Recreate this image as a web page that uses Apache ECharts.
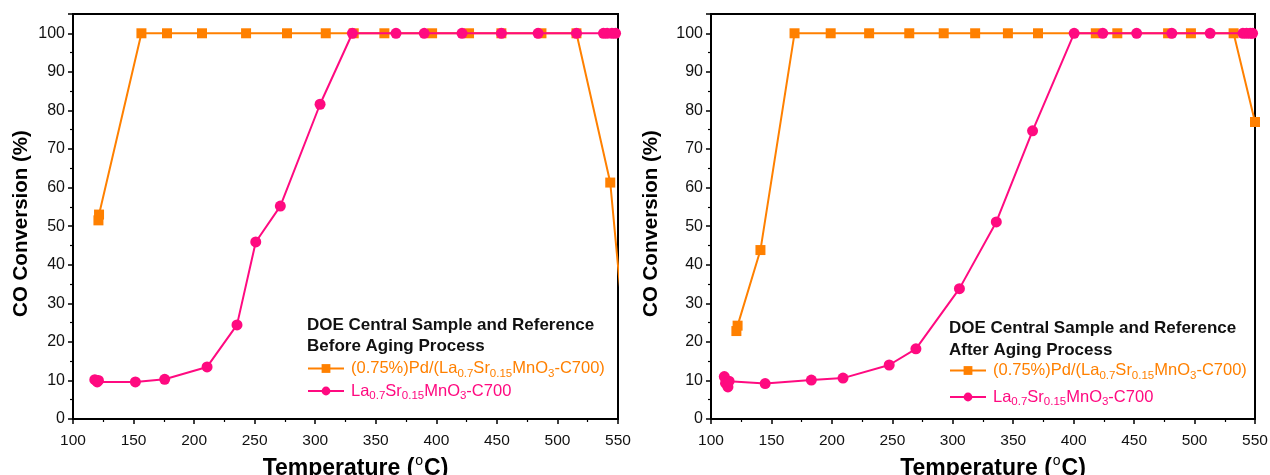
<!DOCTYPE html>
<html>
<head>
<meta charset="utf-8">
<script src="https://cdn.jsdelivr.net/npm/echarts@6/dist/echarts.min.js"></script>
<style>
html,body{margin:0;padding:0;background:#fff;}
#c{width:1270px;height:475px;}
</style>
</head>
<body>
<div id="c"></div>
<script>
// ---- Data (temperature °C, CO conversion %) ----
// Left panel: Before Aging Process
const beforePdT = [121, 121.5, 156.5, 177.6, 206.5, 242.9, 276.7, 308.7, 331.8, 357.1, 396.5, 427, 453.7, 486.8, 515.7, 543.6, 552];
const beforePdY = [51.5, 53, 100, 100, 100, 100, 100, 100, 100, 100, 100, 100, 100, 100, 100, 61.3, 33];
const beforeLaT = [118, 120, 121, 151.5, 175.7, 210.7, 235.4, 250.9, 271.2, 304, 330.7, 366.7, 390, 421.2, 453.7, 484, 515.7, 538, 541, 545, 548];
const beforeLaY = [10.2, 9.6, 10, 9.6, 10.3, 13.5, 24.4, 45.9, 55.2, 81.6, 100, 100, 100, 100, 100, 100, 100, 100, 100, 100, 100];
// Right panel: After Aging Process
const afterPdT = [121, 122, 140.9, 169.1, 199, 230.8, 264, 292.5, 318.5, 345.6, 370.5, 418.3, 436.1, 478.1, 497, 532.3, 550];
const afterPdY = [22.8, 24.2, 43.8, 100, 100, 100, 100, 100, 100, 100, 100, 100, 100, 100, 100, 100, 77];
const afterLaT = [111, 112, 114, 115, 144.8, 183, 209.2, 247.4, 269.5, 305.5, 336, 366, 400.4, 424.1, 452.1, 481.2, 512.9, 540, 543, 546, 548];
const afterLaY = [11, 9.3, 8.3, 9.8, 9.2, 10.1, 10.6, 14.0, 18.2, 33.8, 51.1, 74.7, 100, 100, 100, 100, 100, 100, 100, 100, 100];

const xTicks = [100, 150, 200, 250, 300, 350, 400, 450, 500, 550];
const yTicks = [0, 10, 20, 30, 40, 50, 60, 70, 80, 90, 100];

const PD_NAME = 'Pd';
const LA_NAME = 'La';
const ORANGE = '#FF8000';
const PINK = '#FF0A80';
const FONT = 'Liberation Sans, Arial, sans-serif';

function pairs(xs, ys){ return xs.map((x,i)=>[x, ys[i]]); }

const chart = echarts.init(document.getElementById('c'), null, {renderer:'canvas'});

function xAxisDef(gi){
  return {
    type:'value', gridIndex:gi, min:xTicks[0], max:xTicks[xTicks.length-1], interval:50,
    name:'{t|Temperature (}{s|o}{t|C)}', nameLocation:'middle', nameGap:35,
    nameTextStyle:{padding:[0,0,0,20], rich:{
      t:{fontFamily:FONT, fontWeight:'bold', fontSize:23, color:'#000', lineHeight:26, verticalAlign:'bottom'},
      s:{fontFamily:FONT, fontWeight:'normal', fontSize:14, color:'#000', lineHeight:26, verticalAlign:'top', padding:[0,1,6,1]}
    }},
    axisLine:{show:true, onZero:false, lineStyle:{color:'#000', width:2}},
    axisTick:{show:true, inside:false, length:5, lineStyle:{color:'#000', width:1.5}},
    minorTick:{show:true, splitNumber:2, length:3, lineStyle:{color:'#000', width:1.2}},
    axisLabel:{fontFamily:FONT, fontSize:15.5, color:'#111', margin:14},
    splitLine:{show:false}, minorSplitLine:{show:false}
  };
}
function yAxisDef(gi, gap){
  return {
    type:'value', gridIndex:gi, min:0, max:105, interval:10,
    name:'CO Conversion (%)', nameLocation:'middle', nameGap:gap,
    nameTextStyle:{fontFamily:FONT, fontWeight:'bold', fontSize:20.5, color:'#000', padding:[0,14,0,0]},
    axisLine:{show:true, onZero:false, lineStyle:{color:'#000', width:2}},
    axisTick:{show:true, inside:false, length:5, lineStyle:{color:'#000', width:1.5}},
    minorTick:{show:true, splitNumber:2, length:3, lineStyle:{color:'#000', width:1.2}},
    axisLabel:{fontFamily:FONT, fontSize:16, color:'#111', margin:8, showMaxLabel:false,
      formatter:function(v){ return yTicks.indexOf(v) >= 0 ? String(v) : ''; }},
    splitLine:{show:false}, minorSplitLine:{show:false}
  };
}
function lineSeries(name, xi, data, color, symbol, size){
  return {
    type:'line', name:name, xAxisIndex:xi, yAxisIndex:xi, data:data,
    symbol:symbol, symbolSize:size, showAllSymbol:true, clip:true,
    lineStyle:{color:color, width:2}, itemStyle:{color:color},
    emphasis:{disabled:true}, animation:false, z: symbol==='circle'?3:2
  };
}

const legendRich = {
  o:{fontFamily:FONT, fontSize:16.5, color:ORANGE, lineHeight:22, verticalAlign:'middle'},
  os:{fontFamily:FONT, fontSize:11.5, color:ORANGE, lineHeight:12, verticalAlign:'bottom'},
  p:{fontFamily:FONT, fontSize:16.5, color:PINK, lineHeight:22, verticalAlign:'middle'},
  ps:{fontFamily:FONT, fontSize:11.5, color:PINK, lineHeight:12, verticalAlign:'bottom'}
};
function legendFmt(name){
  if(name===PD_NAME) return '{o|(0.75%)Pd/(La}{os|0.7}{o|Sr}{os|0.15}{o|MnO}{os|3}{o|-C700)}';
  return '{p|La}{ps|0.7}{p|Sr}{ps|0.15}{p|MnO}{ps|3}{p|-C700}';
}
function legendDef(left, top, gap, width){
  return {
    orient:'vertical', left:left, top:top, itemGap:gap, itemWidth:width, itemHeight:11,
    padding:0, data:[PD_NAME, LA_NAME], formatter:legendFmt, selectedMode:false,
    textStyle:{rich:legendRich, padding:[0,0,0,2]}
  };
}

const option = {
  backgroundColor:'#fff',
  animation:false,
  title:[
    {text:'DOE Central Sample and Reference\nBefore Aging Process', left:307, top:315, padding:0,
     textStyle:{fontFamily:FONT, fontWeight:'bold', fontSize:17, color:'#111', lineHeight:21}},
    {text:'DOE Central Sample and Reference\nAfter Aging Process', left:949, top:317, padding:0,
     textStyle:{fontFamily:FONT, fontWeight:'bold', fontSize:17, color:'#111', lineHeight:22}}
  ],
  legend:[legendDef(307, 360, 3, 36), legendDef(949, 362, 7, 36)],
  grid:[
    {left:73, top:14, width:545, height:405, show:true, borderColor:'#000', borderWidth:2, backgroundColor:'transparent', containLabel:false, outerBoundsMode:'none'},
    {left:711, top:14, width:544, height:405, show:true, borderColor:'#000', borderWidth:2, backgroundColor:'transparent', containLabel:false, outerBoundsMode:'none'}
  ],
  xAxis:[xAxisDef(0), xAxisDef(1)],
  yAxis:[yAxisDef(0, 41), yAxisDef(1, 49)],
  series:[
    lineSeries(PD_NAME, 0, pairs(beforePdT, beforePdY), ORANGE, 'rect', 10),
    lineSeries(LA_NAME, 0, pairs(beforeLaT, beforeLaY), PINK, 'circle', 11),
    lineSeries(PD_NAME, 1, pairs(afterPdT, afterPdY), ORANGE, 'rect', 10),
    lineSeries(LA_NAME, 1, pairs(afterLaT, afterLaY), PINK, 'circle', 11)
  ]
};
chart.setOption(option);
</script>
</body>
</html>
